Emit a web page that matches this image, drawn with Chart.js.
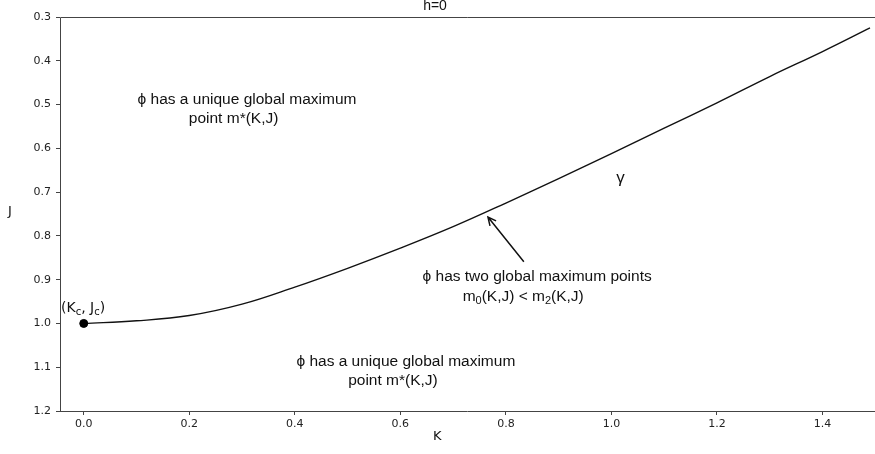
<!DOCTYPE html>
<html>
<head>
<meta charset="utf-8">
<script src="https://cdn.jsdelivr.net/npm/chart.js@4/dist/chart.umd.min.js"></script>
<style>
  html, body { margin: 0; padding: 0; background: #fff; }
  #wrap { width: 875px; height: 454px; }
</style>
</head>
<body>
<div id="wrap"><canvas id="c" width="875" height="454"></canvas></div>
<script>
// Phase boundary curve gamma in the (K, J) plane, h = 0
const curveK = [0.0, 0.1, 0.2, 0.3, 0.4, 0.5, 0.6, 0.7, 0.8, 0.9, 1.0, 1.1, 1.2, 1.3, 1.4, 1.49];
const curveJ = [1.0, 0.994, 0.982, 0.956, 0.917, 0.874, 0.828, 0.779, 0.725, 0.669, 0.612, 0.554, 0.496, 0.436, 0.379, 0.325];

// Critical point (Kc, Jc)
const criticalK = [0.0];
const criticalJ = [1.0];

// Tick labels
const xTicks = [0.0, 0.2, 0.4, 0.6, 0.8, 1.0, 1.2, 1.4];
const yTicks = [0.3, 0.4, 0.5, 0.6, 0.7, 0.8, 0.9, 1.0, 1.1, 1.2];

const tickFont = { family: 'DejaVu Sans', size: 11 };
const textFont = '15.5px "Liberation Sans", Arial, sans-serif';
const subFont = '11px "Liberation Sans", Arial, sans-serif';
const ink = '#111';
const spine = '#444';

// Draws spines, titles and the region annotations
const decorations = {
  id: 'decorations',
  afterDraw(chart) {
    const { ctx, chartArea: a, scales: { x, y } } = chart;
    ctx.save();

    // spines: left, bottom, top
    ctx.strokeStyle = spine;
    ctx.lineWidth = 1;
    ctx.beginPath();
    ctx.moveTo(a.left + 0.5, a.bottom + 0.5);
    ctx.lineTo(a.left + 0.5, a.top + 0.5);
    ctx.lineTo(chart.width, a.top + 0.5);
    ctx.moveTo(a.left, a.bottom + 0.5);
    ctx.lineTo(chart.width, a.bottom + 0.5);
    ctx.stroke();

    ctx.fillStyle = ink;

    // title and axis titles
    ctx.textBaseline = 'alphabetic';
    ctx.font = '14px "Liberation Sans", Arial, sans-serif';
    ctx.textAlign = 'center';
    ctx.fillText('h=0', 435, 10);
    ctx.textBaseline = 'middle';
    ctx.font = '13px "DejaVu Sans"';
    ctx.fillText('K', x.getPixelForValue(0.67), 437);
    ctx.fillText('J', 10, y.getPixelForValue(0.745));

    // mixed text runs with subscripts: [text, isSub]
    function runs(parts, px, py, font, sFont) {
      let cx = px;
      ctx.textAlign = 'left';
      parts.forEach(([t, sub]) => {
        ctx.font = sub ? sFont : font;
        ctx.fillText(t, cx, sub ? py + 4 : py);
        cx += ctx.measureText(t).width;
      });
    }

    ctx.font = textFont;
    ctx.textAlign = 'left';
    // upper region
    ctx.fillText('\u03D5 has a unique global maximum', x.getPixelForValue(0.102), y.getPixelForValue(0.490));
    ctx.textAlign = 'center';
    ctx.fillText('point m*(K,J)', x.getPixelForValue(0.284), y.getPixelForValue(0.533));

    // lower region
    ctx.textAlign = 'left';
    ctx.fillText('\u03D5 has a unique global maximum', x.getPixelForValue(0.403), y.getPixelForValue(1.088));
    ctx.textAlign = 'center';
    ctx.fillText('point m*(K,J)', x.getPixelForValue(0.586), y.getPixelForValue(1.131));

    // on the curve
    ctx.textAlign = 'left';
    ctx.fillText('\u03D5 has two global maximum points', x.getPixelForValue(0.642), y.getPixelForValue(0.893));
    runs([['m', false], ['0', true], ['(K,J) < m', false], ['2', true], ['(K,J)', false]],
         x.getPixelForValue(0.718), y.getPixelForValue(0.939), textFont, subFont);

    // critical point label
    runs([['(K', false], ['c', true], [', J', false], ['c', true], [')', false]],
         x.getPixelForValue(-0.043), y.getPixelForValue(0.966),
         '14px "DejaVu Sans"', '10px "DejaVu Sans"');

    // gamma label
    ctx.font = '17px "Liberation Sans", Arial, sans-serif';
    ctx.textAlign = 'center';
    ctx.fillText('\u03B3', x.getPixelForValue(1.017), y.getPixelForValue(0.668));

    // arrow pointing at the curve
    const x0 = x.getPixelForValue(0.834), y0 = y.getPixelForValue(0.859);
    const x1 = x.getPixelForValue(0.766), y1 = y.getPixelForValue(0.757);
    ctx.strokeStyle = ink;
    ctx.lineWidth = 1.5;
    ctx.beginPath();
    ctx.moveTo(x0, y0);
    ctx.lineTo(x1, y1);
    const ang = Math.atan2(y1 - y0, x1 - x0);
    const hl = 9;
    ctx.moveTo(x1 - hl * Math.cos(ang - 0.45), y1 - hl * Math.sin(ang - 0.45));
    ctx.lineTo(x1, y1);
    ctx.lineTo(x1 - hl * Math.cos(ang + 0.45), y1 - hl * Math.sin(ang + 0.45));
    ctx.stroke();

    ctx.restore();
  }
};

new Chart(document.getElementById('c'), {
  type: 'scatter',
  data: {
    datasets: [
      {
        data: curveK.map((k, i) => ({ x: k, y: curveJ[i] })),
        showLine: true,
        borderColor: '#111',
        borderWidth: 1.4,
        pointRadius: 0,
        tension: 0.4,
        order: 2
      },
      {
        data: criticalK.map((k, i) => ({ x: k, y: criticalJ[i] })),
        backgroundColor: '#000',
        borderColor: '#000',
        pointRadius: 4,
        order: 1
      }
    ]
  },
  options: {
    responsive: false,
    animation: false,
    events: [],
    clip: false,
    layout: { padding: { top: 17, right: 0, left: 0, bottom: 0 } },
    plugins: { legend: { display: false }, tooltip: { enabled: false } },
    scales: {
      x: {
        type: 'linear',
        min: -0.045,
        max: 1.49,
        afterFit(s) { s.height = 43; },
        afterBuildTicks(s) { s.ticks = xTicks.map(v => ({ value: v })); },
        border: { display: false },
        grid: { drawOnChartArea: false, drawTicks: true, tickLength: 4, color: spine },
        ticks: {
          font: tickFont, color: '#222', padding: 3, maxRotation: 0,
          callback: v => Number(v).toFixed(1)
        }
      },
      y: {
        type: 'linear',
        reverse: true,
        min: 0.3,
        max: 1.2,
        afterFit(s) { s.width = 60; },
        afterBuildTicks(s) { s.ticks = yTicks.map(v => ({ value: v })); },
        border: { display: false },
        grid: { drawOnChartArea: false, drawTicks: true, tickLength: 4, color: spine },
        ticks: {
          font: tickFont, color: '#222', padding: 5,
          callback: v => Number(v).toFixed(1)
        }
      }
    }
  },
  plugins: [decorations]
});
</script>
</body>
</html>
